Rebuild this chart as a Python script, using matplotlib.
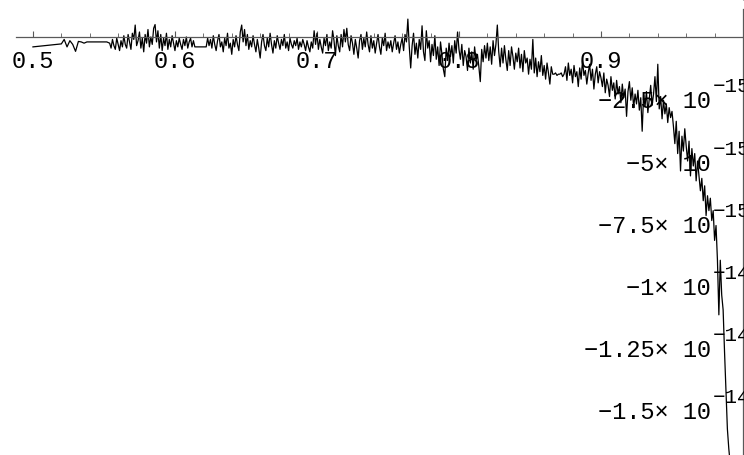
import numpy as np
import matplotlib
matplotlib.use("Agg")
import matplotlib.pyplot as plt
from matplotlib.ticker import FixedLocator, MultipleLocator, NullFormatter

FAM = ["Liberation Mono", "DejaVu Sans Mono"]
SCALE = 1e-15

# curve values, in units of 1e-15
y_lead = [-0.40]                       # x = 0.500
y_520 = [-0.28, -0.10, -0.40, -0.15, -0.30, -0.58, -0.18,
         -0.20, -0.25, -0.20, -0.20, -0.20, -0.20, -0.20, -0.20, -0.20, -0.20]
y_554 = [-0.25, -0.45, -0.10, -0.35, -0.50, -0.05, -0.30, -0.55, -0.15, -0.40,
         0.05, -0.30, -0.45, 0.10, -0.20, -0.50, 0.15, -0.10, 0.48, -0.35,
         -0.15, 0.20, -0.45, -0.05, -0.60, 0.10, -0.25, 0.30, -0.40, 0.00,
         -0.30, 0.35, 0.50, -0.20, 0.25, -0.45, 0.10, -0.55, -0.05, -0.35,
         0.15, -0.50, -0.10, -0.40, 0.05, -0.25, -0.55, -0.15, -0.40, -0.05,
         -0.30, -0.50, -0.10, -0.35, 0.00, -0.45, -0.20, -0.05, -0.40, -0.15]
y_614 = [-0.40, -0.40, -0.40, -0.40, -0.40, -0.40, -0.40, -0.40, -0.40]
y_623 = [-0.05, -0.35, -0.10, -0.45, 0.05, -0.30, -0.55, -0.15, 0.10, -0.40,
         -0.20, -0.60, -0.05, -0.35, 0.15, -0.45, -0.25, -0.70, -0.10, -0.40,
         0.05, -0.30, -0.55, 0.20, 0.48, -0.20, 0.30, -0.35, 0.10, -0.50,
         -0.15, -0.40, 0.05, -0.30, -0.60, -0.10, -0.45, -0.85, -0.20, 0.10,
         -0.35, -0.55, -0.05, -0.40, 0.15, -0.30, -0.65, -0.15, -0.45, 0.05,
         -0.25, -0.50, -0.10, -0.35, 0.10, -0.45, -0.20, -0.55, -0.05, -0.30,
         -0.45, -0.15, -0.35, -0.05, -0.50, -0.20, -0.40, -0.10, -0.30, -0.55,
         -0.15, -0.40, -0.60, -0.20, -0.45, 0.25, -0.30, 0.15, -0.50, -0.10,
         -0.40, -0.65, -0.05, -0.35, 0.10, -0.55, -0.20, -0.45, 0.25, -0.15,
         -0.75, 0.05, -0.35, -0.60, 0.10, -0.40, 0.30, -0.20, 0.35, -0.30,
         -0.55, 0.05, -0.25, -0.70, -0.10, -0.45, -0.85, -0.15, 0.10, -0.50,
         -0.05, -0.40, 0.20, -0.30, -0.60, 0.05, -0.45, -0.15, -0.65, -0.25,
         0.10, -0.40, -0.70, -0.05, -0.35, 0.15, -0.55, -0.20]
y_751 = [-0.45, -0.15, -0.60, -0.25, 0.05, -0.50, -0.20, -0.65, -0.30, -0.05,
         -0.55, 0.10, -0.20, 0.72, -0.40, -1.25, -0.35, 0.15, -0.70, -0.25,
         -0.85, -0.10, -0.50, 0.45, -0.60, -0.95, 0.25, -0.45, -0.15, -1.00,
         -0.30, -0.75, 0.05, -0.90, -0.40, -1.15, -0.20, -0.70, -1.30, -1.60,
         -0.45, -0.95, -0.25, -0.80, -0.35, -1.05, -0.15, -0.65, 0.20, -0.50]
y_801 = [-0.90, -0.30, -1.15, -0.55, -0.80, -1.35, -0.45, -1.05, -0.60, -1.30,
         -0.40, -0.95, -0.70, -1.20, -1.80, -0.50, -1.00, -0.35, -0.85, -0.25,
         -0.95, -0.40, -1.10, -0.15, -0.75, -0.30, 0.48, -0.60, -1.20, -0.45,
         -1.05, -0.35, -0.90, -1.35, -0.55, -1.15, -0.40, -0.80, -1.30, -0.65,
         -1.00, -0.45, -1.25, -0.70, -1.40, -0.55, -1.05, -0.85, -1.50, -0.90]
y_851 = [-1.30, -0.10, -1.45, -0.85, -1.60, -1.00, -1.40, -0.75, -1.55, -1.15,
         -1.70, -1.05, -1.45, -1.90, -1.20, -1.50, -1.50, -1.45, -1.55, -1.50,
         -1.50, -1.45, -1.60, -1.50, -1.20, -1.75, -1.05, -1.55, -1.30, -1.85,
         -1.15, -1.60, -1.40, -2.00, -1.25, -1.70, -0.95, -1.55, -1.35, -1.90,
         -1.45, -1.10, -1.75, -1.30, -2.10, -1.50, -1.20, -1.85, -1.40, -1.65]
y_901 = [-2.00, -1.45, -2.25, -1.70, -1.95, -2.40, -1.60, -2.15, -1.85, -2.50,
         -1.75, -2.30, -2.00, -2.65, -1.90, -2.45, -2.10, -3.20, -2.20, -1.80,
         -2.55, -2.05, -2.85, -2.30, -2.70, -2.15, -2.95, -2.45, -3.80, -2.35,
         -2.80, -2.20, -3.05, -2.50, -1.95, -2.75, -2.30, -1.60, -2.60, -1.10,
         -2.90, -2.40, -3.30, -2.55, -3.10, -2.70, -3.45, -2.85, -3.25, -3.00]
y_951 = [-3.60, -4.30, -3.40, -4.70, -3.80, -5.40, -4.00, -4.60, -3.70, -4.40,
         -5.00, -4.20, -5.60, -4.50, -5.20, -4.70, -5.80, -5.00, -5.60, -6.20,
         -5.70, -6.60, -6.00, -7.20, -6.40, -7.00, -6.50, -7.40, -7.00, -8.20,
         -7.60, -9.00, -11.20, -9.00, -10.40, -11.00, -12.70, -14.20, -15.80,
         -16.60, -17.20]

segments = [(0.500, 0.002, y_lead), (0.520, 0.002, y_520), (0.554, 0.001, y_554),
            (0.614, 0.001, y_614), (0.623, 0.001, y_623), (0.751, 0.001, y_751),
            (0.801, 0.001, y_801), (0.851, 0.001, y_851), (0.901, 0.001, y_901),
            (0.951, 0.001, y_951)]

xtick_vals = [0.5, 0.6, 0.7, 0.8, 0.9]
xtick_labels = ["0.5", "0.6", "0.7", "0.8", "0.9"]
ytick_vals = [-2.5, -5, -7.5, -10, -12.5, -15]
ytick_mant = ["\u22122.5\u00d7", "\u22125\u00d7", "\u22127.5\u00d7",
              "\u22121\u00d7", "\u22121.25\u00d7", "\u22121.5\u00d7"]
ytick_exp = ["\u221215", "\u221215", "\u221215", "\u221214", "\u221214", "\u221214"]

xs, ys = [], []
for start, step, vals in segments:
    xs.append(start + step * np.arange(len(vals)))
    ys.append(np.array(vals))
x = np.concatenate(xs)
y = np.concatenate(ys) * SCALE

fig = plt.figure(figsize=(7.44, 4.56), dpi=100)
ax = fig.add_axes([0, 0, 1, 1])
ax.plot(x, y, color="black", lw=0.9)

ax.set_xlim(0.4768, 1.0007)
ax.set_ylim(-16.85 * SCALE, 1.53 * SCALE)

ax.spines["left"].set_visible(False)
ax.spines["top"].set_visible(False)
ax.spines["bottom"].set_position(("data", 0))
ax.spines["right"].set_position(("data", 1.0))
ax.spines["bottom"].set_bounds(0.488, 1.0007)
ax.spines["right"].set_bounds(-16.85 * SCALE, 1.13 * SCALE)
for s in ["bottom", "right"]:
    ax.spines[s].set_color("0.35")
    ax.spines[s].set_linewidth(0.9)

ax.xaxis.set_major_locator(FixedLocator(xtick_vals))
ax.xaxis.set_minor_locator(FixedLocator(np.arange(0.50, 1.001, 0.02)))
ax.set_xticklabels(xtick_labels, family=FAM, fontsize=17)
ax.tick_params(axis="x", which="both", direction="in", color="0.35",
               top=False, bottom=True, pad=9)
ax.tick_params(axis="x", which="major", length=4.5)
ax.tick_params(axis="x", which="minor", length=3)

ax.yaxis.tick_right()
ax.yaxis.set_major_locator(MultipleLocator(2.5 * SCALE))
ax.yaxis.set_minor_locator(MultipleLocator(0.5 * SCALE))
ax.yaxis.set_major_formatter(NullFormatter())
ax.tick_params(axis="y", which="both", direction="out", color="0.35",
               left=False, right=True, labelleft=False, labelright=False)
ax.tick_params(axis="y", which="major", length=5)
ax.tick_params(axis="y", which="minor", length=3)

for v, m, e in zip(ytick_vals, ytick_mant, ytick_exp):
    ax.annotate(m + " 10", xy=(1.0, v * SCALE), xytext=(-32, -2),
                textcoords="offset pixels", ha="right", va="center",
                family=FAM, fontsize=17)
    ax.annotate(e, xy=(1.0, v * SCALE), xytext=(-30, 13),
                textcoords="offset pixels", ha="left", va="center",
                family=FAM, fontsize=15, annotation_clip=False)

fig.savefig("out.png", dpi=100)
